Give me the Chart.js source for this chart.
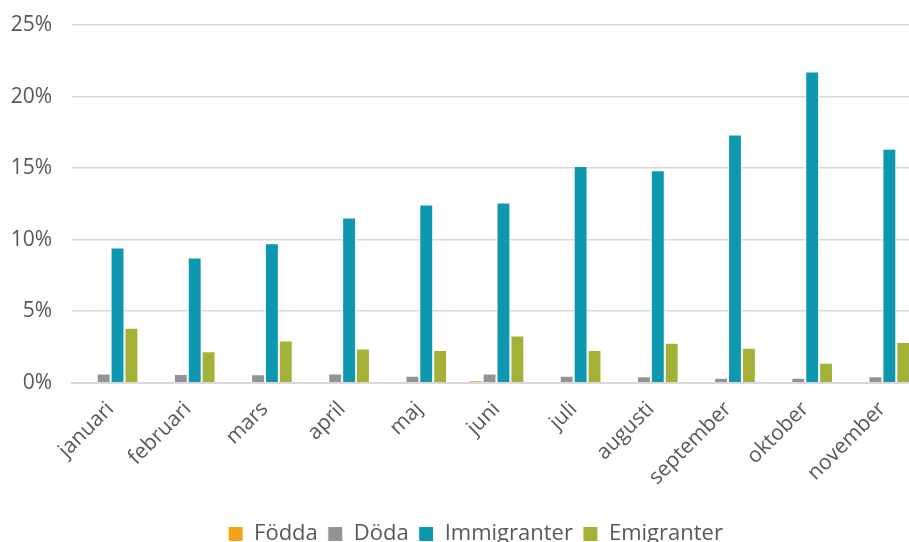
<!DOCTYPE html>
<html>
<head>
<meta charset="utf-8">
<script src="https://cdn.jsdelivr.net/npm/chart.js@4"></script>
<style>
  html, body { margin: 0; padding: 0; background: #fff; overflow: hidden; }
  #wrap { width: 950px; height: 555px; }
</style>
</head>
<body>
<div id="wrap"><canvas id="chartCanvas" width="950" height="555"></canvas></div>
<script>
const months = ['januari', 'februari', 'mars', 'april', 'maj', 'juni', 'juli', 'augusti', 'september', 'oktober', 'november'];
const fodda = [0.05, 0.03, 0.03, 0.05, 0.03, 0.15, 0.05, 0.04, 0.03, 0.05, 0.03];
const doda = [0.65, 0.62, 0.6, 0.65, 0.5, 0.65, 0.5, 0.45, 0.35, 0.35, 0.45];
const immigranter = [9.45, 8.75, 9.75, 11.55, 12.45, 12.6, 15.15, 14.85, 17.35, 21.75, 16.35];
const emigranter = [3.85, 2.2, 2.95, 2.4, 2.3, 3.3, 2.3, 2.8, 2.45, 1.4, 2.85];
const yTicks = [0, 5, 10, 15, 20, 25];

const seriesNames = ['Födda', 'Döda', 'Immigranter', 'Emigranter'];
const seriesColors = ['#f5a21b', '#939393', '#0e98b0', '#a3b236'];
const seriesData = [fodda, doda, immigranter, emigranter];

const datasets = seriesNames.map((name, i) => ({
    label: name,
    data: seriesData[i],
    backgroundColor: seriesColors[i],
    borderColor: '#ffffff',
    borderWidth: 1,
    categoryPercentage: 0.72,
    barPercentage: 1.0
}));

// nudge the legend a bit to the right, like the original
const legendShift = {
    id: 'legendShift',
    afterLayout(chart) {
        chart.legend.left += 12;
        chart.legend.right += 12;
    }
};

const ctx = document.querySelector('#chartCanvas').getContext('2d');
new Chart(ctx, {
    type: 'bar',
    data: { labels: months, datasets: datasets },
    plugins: [legendShift],
    options: {
        responsive: false,
        animation: false,
        layout: { padding: { left: 6, top: 25, right: 29, bottom: 0 } },
        scales: {
            x: {
                grid: { display: false },
                border: { display: true, color: '#d9d9d9', width: 2 },
                afterFit: s => { s.paddingLeft = 0; s.paddingRight = 0; s.height += 17; },
                ticks: {
                    color: '#595959',
                    font: { family: 'Open Sans', size: 21 },
                    minRotation: 45,
                    maxRotation: 45,
                    padding: 6
                }
            },
            y: {
                min: 0,
                max: 25,
                afterBuildTicks: axis => { axis.ticks = yTicks.map(v => ({ value: v })); },
                afterFit: s => { s.width = 66; s.paddingTop = 0; },
                grid: { color: '#d9d9d9', lineWidth: 1.5, drawTicks: false },
                border: { display: false },
                ticks: {
                    color: '#595959',
                    font: { family: 'Open Sans', size: 21 },
                    padding: 20,
                    callback: v => v + '%'
                }
            }
        },
        plugins: {
            legend: {
                position: 'bottom',
                labels: {
                    color: '#595959',
                    font: { family: 'Open Sans', size: 22 },
                    boxWidth: 15,
                    boxHeight: 15,
                    padding: 10
                }
            },
            tooltip: { enabled: false }
        }
    }
});
</script>
</body>
</html>
